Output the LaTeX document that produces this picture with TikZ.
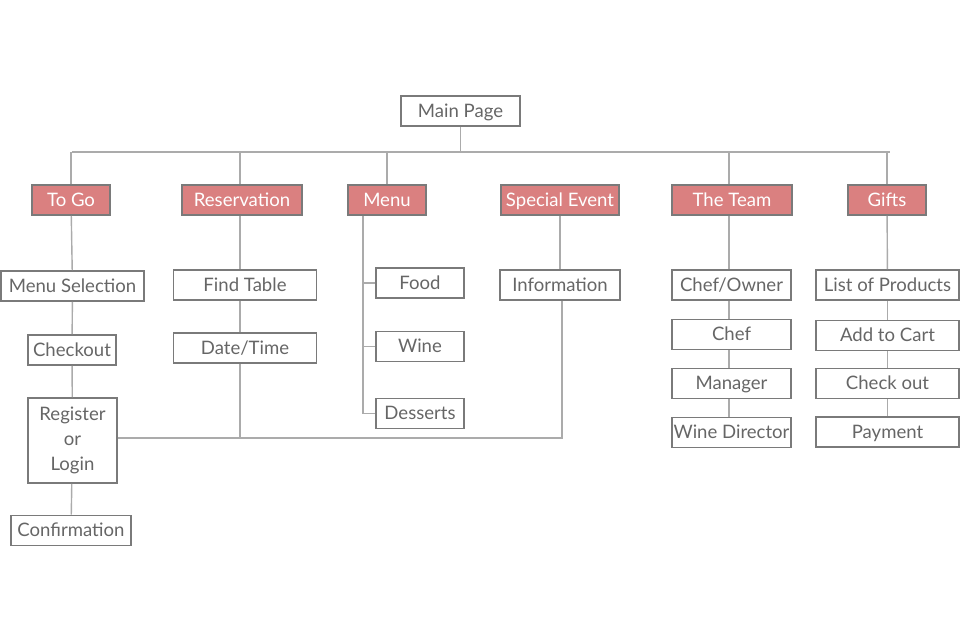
\documentclass[tikz,border=0pt]{standalone}
\usepackage{fontspec}
\setmainfont{Lato}
\definecolor{boxgray}{HTML}{7A7A7A}
\definecolor{textgray}{HTML}{666666}
\definecolor{linegray}{HTML}{ABABAB}
\definecolor{rosso}{HTML}{DA8080}
\tikzset{
  pagina/.style={rectangle, draw=boxgray, line width=1.3pt, fill=white, text=textgray,
    minimum height=30*0.025cm, inner sep=0pt, text height=0.9em, text depth=0em,
    font=\fontsize{13.2}{17.8}\selectfont},
  sezione/.style={pagina, fill=rosso, text=white},
  arco/.style={draw=linegray, line width=1pt}
}
\begin{document}
\begin{tikzpicture}[x=0.025cm, y=-0.025cm]
        \useasboundingbox (0,0) rectangle (960,637);
        %%%%%%%%%% Nodi %%%%%%%%%%
        \node[pagina, minimum width=119*0.025cm] (main) at (460.5,111) {Main Page};

        \node[sezione, minimum width=78*0.025cm]  (togo)    at (71,200)  {To Go};
        \node[sezione, minimum width=120*0.025cm] (reserv)  at (242,200) {Reservation};
        \node[sezione, minimum width=78*0.025cm]  (menu)    at (387,200) {Menu};
        \node[sezione, minimum width=118*0.025cm] (special) at (560,200) {Special Event};
        \node[sezione, minimum width=120*0.025cm] (team)    at (732,200) {The Team};
        \node[sezione, minimum width=78*0.025cm]  (gifts)   at (887,200) {Gifts};

        \node[pagina, minimum width=143*0.025cm] (menusel)  at (72.5,286) {Menu Selection};
        \node[pagina, minimum width=88*0.025cm]  (checkout) at (72,350)   {Checkout};
        \node[pagina, minimum width=89*0.025cm, minimum height=85*0.025cm, align=center,
              text height=, text depth=]         (register) at (72.5,440.5) {Register\\or\\Login};
        \node[pagina, minimum width=120*0.025cm] (confirm)  at (71,530.5)  {Confirmation};

        \node[pagina, minimum width=143*0.025cm] (findtab)  at (245,285) {Find Table};
        \node[pagina, minimum width=143*0.025cm] (datetime) at (245,348) {Date/Time};

        \node[pagina, minimum width=88*0.025cm] (food)     at (420,283)   {Food};
        \node[pagina, minimum width=88*0.025cm] (wine)     at (420,346.5) {Wine};
        \node[pagina, minimum width=88*0.025cm] (desserts) at (420,413.5) {Desserts};

        \node[pagina, minimum width=120*0.025cm] (info) at (560,285) {Information};

        \node[pagina, minimum width=119*0.025cm] (chefown) at (731.5,285)   {Chef/Owner};
        \node[pagina, minimum width=119*0.025cm] (chef)    at (731.5,334.5) {Chef};
        \node[pagina, minimum width=119*0.025cm] (manager) at (731.5,383.5) {Manager};
        \node[pagina, minimum width=119*0.025cm] (winedir) at (731.5,432.5) {Wine Director};

        \node[pagina, minimum width=143*0.025cm] (listprod) at (887.5,285)   {List of Products};
        \node[pagina, minimum width=143*0.025cm] (addcart)  at (887.5,335.5) {Add to Cart};
        \node[pagina, minimum width=143*0.025cm] (checkout2) at (887.5,383.5) {Check out};
        \node[pagina, minimum width=143*0.025cm] (payment)  at (887.5,432)   {Payment};

        \coordinate (busL) at (72,152);
        \coordinate (busR) at (890,152);
        \coordinate (resX) at (240,152);
        \coordinate (teamX) at (729,152);
        \coordinate (menuEnd) at (363,413.5);
        \coordinate (joinR) at (562,438);

        %%%%%%%%% Archi %%%%%%%%%%
        \draw[arco] (busL) -- (busR);
        \draw[arco] (main) -- (main |- busL);
        \draw[arco] (togo) -- (togo |- busL);
        \draw[arco] (resX) -- (reserv.north -| resX);
        \draw[arco] (menu) -- (menu |- busL);
        \draw[arco] (teamX) -- (team.north -| teamX);
        \draw[arco] (gifts) -- (gifts |- busL);

        \draw[arco] (togo) -- (menusel);
        \draw[arco] (menusel) -- (checkout);
        \draw[arco] (checkout) -- (register);
        \draw[arco] (register) -- (confirm);

        \draw[arco] (reserv.south -| resX) -- (findtab.north -| resX);
        \draw[arco] (findtab.south -| resX) -- (datetime.north -| resX);
        \draw[arco] (datetime.south -| resX) -- (resX |- joinR);

        \draw[arco] (menu.south -| menuEnd) -- (menuEnd) -- (desserts);
        \draw[arco] (food -| menuEnd) -- (food);
        \draw[arco] (wine -| menuEnd) -- (wine);

        \draw[arco] (special) -- (info);
        \draw[arco] (info.south -| joinR) -- (joinR) -- (joinR -| register.east);

        \draw[arco] (team.south -| teamX) -- (chefown.north -| teamX);
        \draw[arco] (chefown.south -| teamX) -- (chef.north -| teamX);
        \draw[arco] (chef.south -| teamX) -- (manager.north -| teamX);
        \draw[arco] (manager.south -| teamX) -- (winedir.north -| teamX);

        \draw[arco] (gifts) -- (listprod);
        \draw[arco] (listprod) -- (addcart);
        \draw[arco] (addcart) -- (checkout2);
        \draw[arco] (checkout2) -- (payment);
    \end{tikzpicture}
\end{document}
